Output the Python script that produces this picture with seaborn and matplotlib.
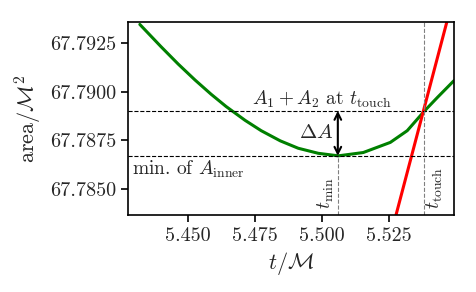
import numpy as np
import pandas as pd
import matplotlib
matplotlib.use("Agg")
import matplotlib.pyplot as plt
from matplotlib.ticker import FormatStrFormatter
import seaborn as sns

# inner horizon area
t_inner = [5.4321, 5.4400, 5.4464, 5.4527, 5.4587, 5.4643, 5.4714, 5.4774, 5.4845,
           5.4912, 5.4987, 5.5062, 5.5155, 5.5256, 5.5319, 5.5384, 5.5432, 5.5493]
a_inner = [67.79345, 67.79231, 67.79142, 67.79060, 67.78987, 67.78924, 67.78853,
           67.78800, 67.78748, 67.78710, 67.78684, 67.78671, 67.78688, 67.78740,
           67.78800, 67.78902, 67.78971, 67.79056]

# A1 + A2 (steep line)
t_sum = [5.5270, 5.5475]
a_sum = [67.78330, 67.79400]

t_min = 5.506
t_touch = 5.538
a_min = 67.78671
a_touch = 67.78902

xticks = [5.450, 5.475, 5.500, 5.525]
yticks = [67.7850, 67.7875, 67.7900, 67.7925]

sns.set_theme(style="ticks")
plt.rcParams["font.family"] = "serif"
plt.rcParams["font.serif"] = ["cmr10"]
plt.rcParams["mathtext.fontset"] = "cm"
plt.rcParams["axes.formatter.use_mathtext"] = True

fig = plt.figure(figsize=(4.76, 2.92), dpi=100)
ax = fig.add_axes([0.269, 0.264, 0.685, 0.661])

inner = pd.DataFrame({"t": t_inner, "A": a_inner})
summ = pd.DataFrame({"t": t_sum, "A": a_sum})
sns.lineplot(data=inner, x="t", y="A", color="green", lw=2.2, ax=ax)
sns.lineplot(data=summ, x="t", y="A", color="red", lw=2.2, ax=ax)

ax.axhline(a_touch, color="black", ls="--", lw=0.8)
ax.axhline(a_min, color="black", ls="--", lw=0.8)
ax.axvline(t_touch, color="gray", ls="--", lw=0.8)

ax.set_xlim(5.4277, 5.5494)
ax.set_ylim(67.78368, 67.79358)
ylo = ax.get_ylim()[0]
ax.plot([t_min, t_min], [ylo, a_min], color="gray", ls="--", lw=0.8)

ax.annotate("", xy=(t_min, a_min), xytext=(t_min, a_touch),
            arrowprops=dict(arrowstyle="<->", color="black", lw=1.5,
                            shrinkA=0, shrinkB=0))
ax.text(5.5000, a_touch + 0.00006, r"$A_1 + A_2$ at $t_{\rm touch}$",
        ha="center", va="bottom", fontsize=14)
ax.text(t_min - 0.0017, (a_min + a_touch) / 2, r"$\Delta A$",
        ha="right", va="center", fontsize=15)
ax.text(5.4293, a_min - 0.00015, r"min. of $A_{\rm inner}$",
        ha="left", va="top", fontsize=14)
ax.text(t_min - 0.0005, 67.7840, r"$t_{\rm min}$", rotation=90,
        ha="right", va="bottom", fontsize=14)
ax.text(t_touch + 0.0005, 67.7840, r"$t_{\rm touch}$", rotation=90,
        ha="left", va="bottom", fontsize=14)

ax.set_xticks(xticks)
ax.set_yticks(yticks)
ax.xaxis.set_major_formatter(FormatStrFormatter("%.3f"))
ax.yaxis.set_major_formatter(FormatStrFormatter("%.4f"))
ax.tick_params(labelsize=14.5, length=5, width=1.2, color="black")
for s in ax.spines.values():
    s.set_color("black")
    s.set_linewidth(1.2)

ax.set_xlabel(r"$t/\mathcal{M}$", fontsize=16)
ax.set_ylabel(r"area$/\mathcal{M}^2$", fontsize=16)

fig.savefig("out.png", dpi=100)
